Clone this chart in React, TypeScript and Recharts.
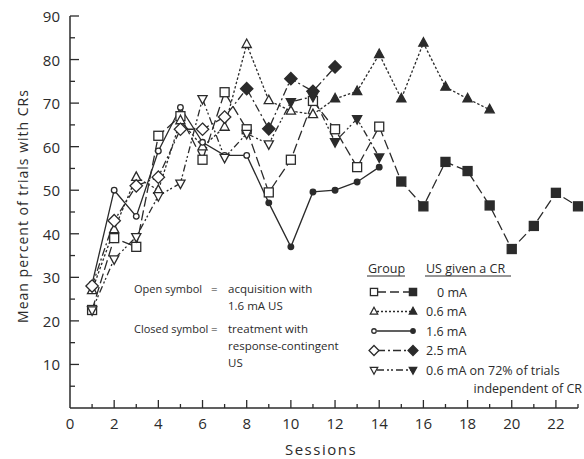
import React from 'react';
import { LineChart, Line, XAxis, YAxis } from 'recharts';

// sessions and group values (mean % of trials with CRs)
const sessions = [1, 2, 3, 4, 5, 6, 7, 8, 9, 10, 11, 12, 13, 14, 15, 16, 17, 18, 19, 20, 21, 22, 23];
const group0mA = [22.5, 39, 37, 62.5, 67, 57, 72.5, 64, 49.5, 57, 70.5, 64, 55.3, 64.6, 52, 46.3, 56.5, 54.4, 46.5, 36.5, 41.8, 49.4, 46.3];
const group06mA = [27, 41, 53, 50, 66, 60, 64.5, 83.5, 70.6, 68.2, 67.4, 71, 72.7, 81.2, 71, 83.8, 73.7, 71, 68.5];
const group16mA = [28.5, 50, 44, 59, 69, 61, 58, 58, 47.1, 37, 49.6, 50, 51.9, 55.3];
const group25mA = [28, 43, 51, 53, 64, 64, 66.8, 73.3, 64.1, 75.6, 72.7, 78.3];
const group06Partial = [22.5, 34.2, 39.3, 48.7, 51.6, 71, 57.5, 63, 60.6, 70.3, 71.5, 61.1, 66.4, 57.6];

// first session drawn with a closed symbol, per group
const closed0mA = 15;
const closed06mA = 12;
const closed16mA = 9;
const closed25mA = 8;
const closed06Partial = 10;

const xTicks = [0, 1, 2, 3, 4, 5, 6, 7, 8, 9, 10, 11, 12, 13, 14, 15, 16, 17, 18, 19, 20, 21, 22, 23];
const yTicks = [5, 10, 15, 20, 25, 30, 35, 40, 45, 50, 55, 60, 65, 70, 75, 80, 85, 90];

const rows = sessions.map((s, i) => ({
  session: s,
  g0: group0mA[i] ?? null,
  g06: group06mA[i] ?? null,
  g16: group16mA[i] ?? null,
  g25: group25mA[i] ?? null,
  g06p: group06Partial[i] ?? null,
}));

const INK = '#2b2b2b';
const FONT = '"Open Sans", "DejaVu Sans", sans-serif';

type Kind = 'square' | 'triUp' | 'circle' | 'diamond' | 'triDown';

const drawSymbol = (kind: Kind, cx: number, cy: number, closed: boolean, key?: string, k = 1) => {
  const fill = closed ? INK : '#fff';
  const common = { stroke: INK, strokeWidth: 1.3, fill };
  switch (kind) {
    case 'square':
      return <rect key={key} x={cx - 4.5 * k} y={cy - 4.5 * k} width={9 * k} height={9 * k} {...common} />;
    case 'triUp':
      return <polygon key={key} points={`${cx},${cy - 5.3 * k} ${cx - 4.6 * k},${cy + 3.2 * k} ${cx + 4.6 * k},${cy + 3.2 * k}`} {...common} />;
    case 'circle':
      return <circle key={key} cx={cx} cy={cy} r={2.8 * k} {...common} />;
    case 'diamond':
      return <polygon key={key} points={`${cx},${cy - 6.2 * k} ${cx + 6.2 * k},${cy} ${cx},${cy + 6.2 * k} ${cx - 6.2 * k},${cy}`} {...common} />;
    default:
      return <polygon key={key} points={`${cx - 4.6 * k},${cy - 3.2 * k} ${cx + 4.6 * k},${cy - 3.2 * k} ${cx},${cy + 5.3 * k}`} {...common} />;
  }
};

const makeDot = (kind: Kind, closedFrom: number, name: string) => (props: any) => {
  const { cx, cy, payload, index } = props;
  if (cx == null || cy == null || props.value == null) return <g key={`${name}-${index}`} />;
  return drawSymbol(kind, cx, cy, payload.session >= closedFrom, `${name}-${index}`);
};

const YTick = (props: any) => {
  const { x, y, payload } = props;
  const major = payload.value % 10 === 0;
  return (
    <g>
      <line x1={x} x2={x + (major ? 9 : 5)} y1={y} y2={y} stroke={INK} strokeWidth={1.3} />
      {major && (
        <text x={x - 10} y={y} textAnchor="end" dominantBaseline="central" fontSize={15} fontFamily={FONT} fill={INK}>
          {payload.value}
        </text>
      )}
    </g>
  );
};

const XTick = (props: any) => {
  const { x, y, payload } = props;
  const v = payload.value;
  const major = v % 2 === 0;
  return (
    <g>
      {v > 0 && <line x1={x} x2={x} y1={y} y2={y - (major ? 8 : 4)} stroke={INK} strokeWidth={1.3} />}
      {major && v <= 22 && (
        <text x={x} y={y + 15} textAnchor="middle" dominantBaseline="central" fontSize={15} fontFamily={FONT} fill={INK}>
          {v}
        </text>
      )}
    </g>
  );
};

const legendRows: { kind: Kind; dash: string; label: string; lx: number }[] = [
  { kind: 'square', dash: '9 4', label: '0 mA', lx: 437 },
  { kind: 'triUp', dash: '2 2', label: '0.6 mA', lx: 426 },
  { kind: 'circle', dash: '', label: '1.6 mA', lx: 426 },
  { kind: 'diamond', dash: '8 3 2 3', label: '2.5 mA', lx: 426 },
  { kind: 'triDown', dash: '7 3 2 2 2 3', label: '0.6 mA on 72% of trials', lx: 426 },
];

const App: React.FC = () => {
  const txt = { fontFamily: FONT, fill: INK, dominantBaseline: 'central' as const };
  return (
    <div style={{ position: 'absolute', left: 0, top: 0, width: 584, height: 459, background: '#fff' }}>
      <LineChart width={584} height={459} data={rows} margin={{ top: 16, right: 6, bottom: 21, left: 20 }}>
        <XAxis
          type="number"
          dataKey="session"
          domain={[0, 23]}
          ticks={xTicks}
          interval={0}
          tick={<XTick />}
          tickLine={false}
          tickSize={0}
          tickMargin={0}
          height={30}
          axisLine={{ stroke: INK, strokeWidth: 1.5 }}
        />
        <YAxis
          type="number"
          domain={[0, 90]}
          ticks={yTicks}
          interval={0}
          tick={<YTick />}
          tickLine={false}
          tickSize={0}
          tickMargin={0}
          width={50}
          axisLine={{ stroke: INK, strokeWidth: 1.5 }}
        />
        <Line dataKey="g0" stroke={INK} strokeWidth={1.3} strokeDasharray="10 4" dot={makeDot('square', closed0mA, 'g0')} activeDot={false} isAnimationActive={false} />
        <Line dataKey="g06" stroke={INK} strokeWidth={1.3} strokeDasharray="2.5 2" dot={makeDot('triUp', closed06mA, 'g06')} activeDot={false} isAnimationActive={false} />
        <Line dataKey="g16" stroke={INK} strokeWidth={1.3} dot={makeDot('circle', closed16mA, 'g16')} activeDot={false} isAnimationActive={false} />
        <Line dataKey="g25" stroke={INK} strokeWidth={1.3} strokeDasharray="8 3 2 3" dot={makeDot('diamond', closed25mA, 'g25')} activeDot={false} isAnimationActive={false} />
        <Line dataKey="g06p" stroke={INK} strokeWidth={1.3} strokeDasharray="7 3 2 2 2 3" dot={makeDot('triDown', closed06Partial, 'g06p')} activeDot={false} isAnimationActive={false} />
      </LineChart>

      <svg width={584} height={459} style={{ position: 'absolute', left: 0, top: 0, pointerEvents: 'none' }}>
        {/* axis titles */}
        <text x={321} y={449} textAnchor="middle" fontSize={15} letterSpacing={1.5} {...txt}>Sessions</text>
        <text x={22} y={206} textAnchor="middle" fontSize={14} letterSpacing={1} transform="rotate(-90 22 206)" {...txt}>
          Mean percent of trials with CRs
        </text>

        {/* symbol notes */}
        <g fontSize={11.5}>
          <text x={134} y={288} fontSize={11} {...txt}>Open symbol</text>
          <text x={211} y={288} {...txt}>=</text>
          <text x={228} y={288} {...txt}>acquisition with</text>
          <text x={228} y={305} {...txt}>1.6 mA  US</text>
          <text x={134} y={328} fontSize={11} {...txt}>Closed symbol</text>
          <text x={211} y={328} {...txt}>=</text>
          <text x={228} y={328} {...txt}>treatment with</text>
          <text x={228} y={345} {...txt}>response-contingent</text>
          <text x={228} y={362} {...txt}>US</text>
        </g>

        {/* legend */}
        <g fontSize={12.5}>
          <text x={368} y={268} {...txt}>Group</text>
          <line x1={367} x2={405} y1={276} y2={276} stroke={INK} strokeWidth={1} />
          <text x={426} y={268} {...txt}>US given a CR</text>
          <line x1={425} x2={511} y1={276} y2={276} stroke={INK} strokeWidth={1} />
          {legendRows.map((r, i) => {
            const y = 292 + i * 19.5;
            return (
              <g key={r.label}>
                <line x1={377} x2={411} y1={y} y2={y} stroke={INK} strokeWidth={1.3} strokeDasharray={r.dash || undefined} />
                {drawSymbol(r.kind, 374, y, false, undefined, 0.8)}
                {drawSymbol(r.kind, 413, y, true, undefined, 0.8)}
                <text x={r.lx} y={y} {...txt}>{r.label}</text>
              </g>
            );
          })}
          <text x={582} y={388} textAnchor="end" {...txt}>independent of CR</text>
        </g>
      </svg>
    </div>
  );
};

export default App;
